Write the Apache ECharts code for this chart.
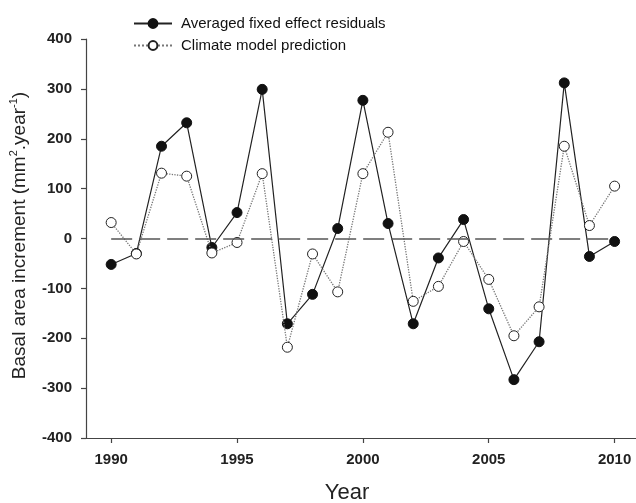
<!DOCTYPE html>
<html><head><meta charset="utf-8">
<script src="https://cdn.jsdelivr.net/npm/echarts@6/dist/echarts.min.js"></script>
<style>html,body{margin:0;padding:0;background:#fff}#c{width:636px;height:503px}</style>
</head><body><div id="c"></div>
<script>
const years = [1990,1991,1992,1993,1994,1995,1996,1997,1998,1999,2000,2001,2002,2003,2004,2005,2006,2007,2008,2009,2010];
const residuals = [-52,-30,185,232,-18,52,299,-171,-112,20,277,30,-171,-39,38,-141,-283,-207,312,-36,-6];
const prediction = [32,-31,131,125,-29,-8,130,-218,-31,-107,130,213,-126,-96,-6,-82,-195,-137,185,26,105];
const xTicks = [1990,1995,2000,2005,2010];
const zeroLine = [1990, 2010, 0];
const FONT = "'Liberation Sans', Arial, sans-serif";

const chart = echarts.init(document.getElementById('c'), null, {renderer:'canvas'});
chart.setOption({
  animation: false,
  backgroundColor: '#fff',
  textStyle: {fontFamily: FONT},
  legend: {
    orient: 'vertical', left: 128, top: 11, itemWidth: 38, itemHeight: 11, itemGap: 7,
    textStyle: {fontSize: 15, fontFamily: FONT, color: '#111', padding: [0,0,0,4]},
    data: ['Averaged fixed effect residuals', 'Climate model prediction']
  },
  grid: {left: 86, right: 0, top: 39, bottom: 65, containLabel: false, outerBoundsMode: 'none'},
  xAxis: {
    type: 'value', min: 1989, max: 2010.85,
    axisLine: {show: true, onZero: false, lineStyle: {color: '#444', width: 1.2}},
    axisTick: {show: true, customValues: xTicks, length: 5, lineStyle: {color: '#444', width: 1.2}},
    axisLabel: {customValues: xTicks, fontSize: 15, fontWeight: 'bold', color: '#222', margin: 14, fontFamily: FONT,
      formatter: v => String(v)},
    splitLine: {show: false},
    name: 'Year', nameLocation: 'middle', nameGap: 44,
    nameTextStyle: {fontSize: 22, color: '#222', fontFamily: FONT, padding: [0,28,0,0]}
  },
  yAxis: {
    type: 'value', min: -400, max: 400, interval: 100,
    axisLine: {show: true, onZero: false, lineStyle: {color: '#444', width: 1.2}},
    axisTick: {show: true, length: 5, lineStyle: {color: '#444', width: 1.2}},
    axisLabel: {fontSize: 15, fontWeight: 'bold', color: '#222', margin: 14, fontFamily: FONT},
    splitLine: {show: false},
    name: 'Basal area increment (mm{sup|2}.year{sup|-1})',
    nameLocation: 'middle', nameGap: 52,
    nameTextStyle: {fontSize: 19, color: '#222', fontFamily: FONT, lineHeight: 23, padding: [0,0,0,6],
      rich: {sup: {fontSize: 11, fontFamily: FONT, color: '#222', verticalAlign: 'top', lineHeight: 13}}}
  },
  series: [
    {
      name: 'Averaged fixed effect residuals', type: 'line', z: 2,
      data: years.map((y, i) => [y, residuals[i]]),
      symbol: 'circle', symbolSize: 10, showAllSymbol: true,
      itemStyle: {color: '#111', borderColor: '#111', borderWidth: 1},
      lineStyle: {color: '#222', width: 1.2},
      markLine: {
        silent: true, symbol: 'none', animation: false,
        label: {show: false},
        lineStyle: {color: '#555', width: 1.6, type: [21, 7]},
        data: [[{coord: [zeroLine[0], zeroLine[2]]}, {coord: [zeroLine[1], zeroLine[2]]}]]
      }
    },
    {
      name: 'Climate model prediction', type: 'line', z: 3,
      data: years.map((y, i) => [y, prediction[i]]),
      symbol: 'circle', symbolSize: 10, showAllSymbol: true,
      itemStyle: {color: '#fff', borderColor: '#222', borderWidth: 1},
      lineStyle: {color: '#777', width: 1.3, type: 'dotted'}
    }
  ]
});
</script>
</body></html>
